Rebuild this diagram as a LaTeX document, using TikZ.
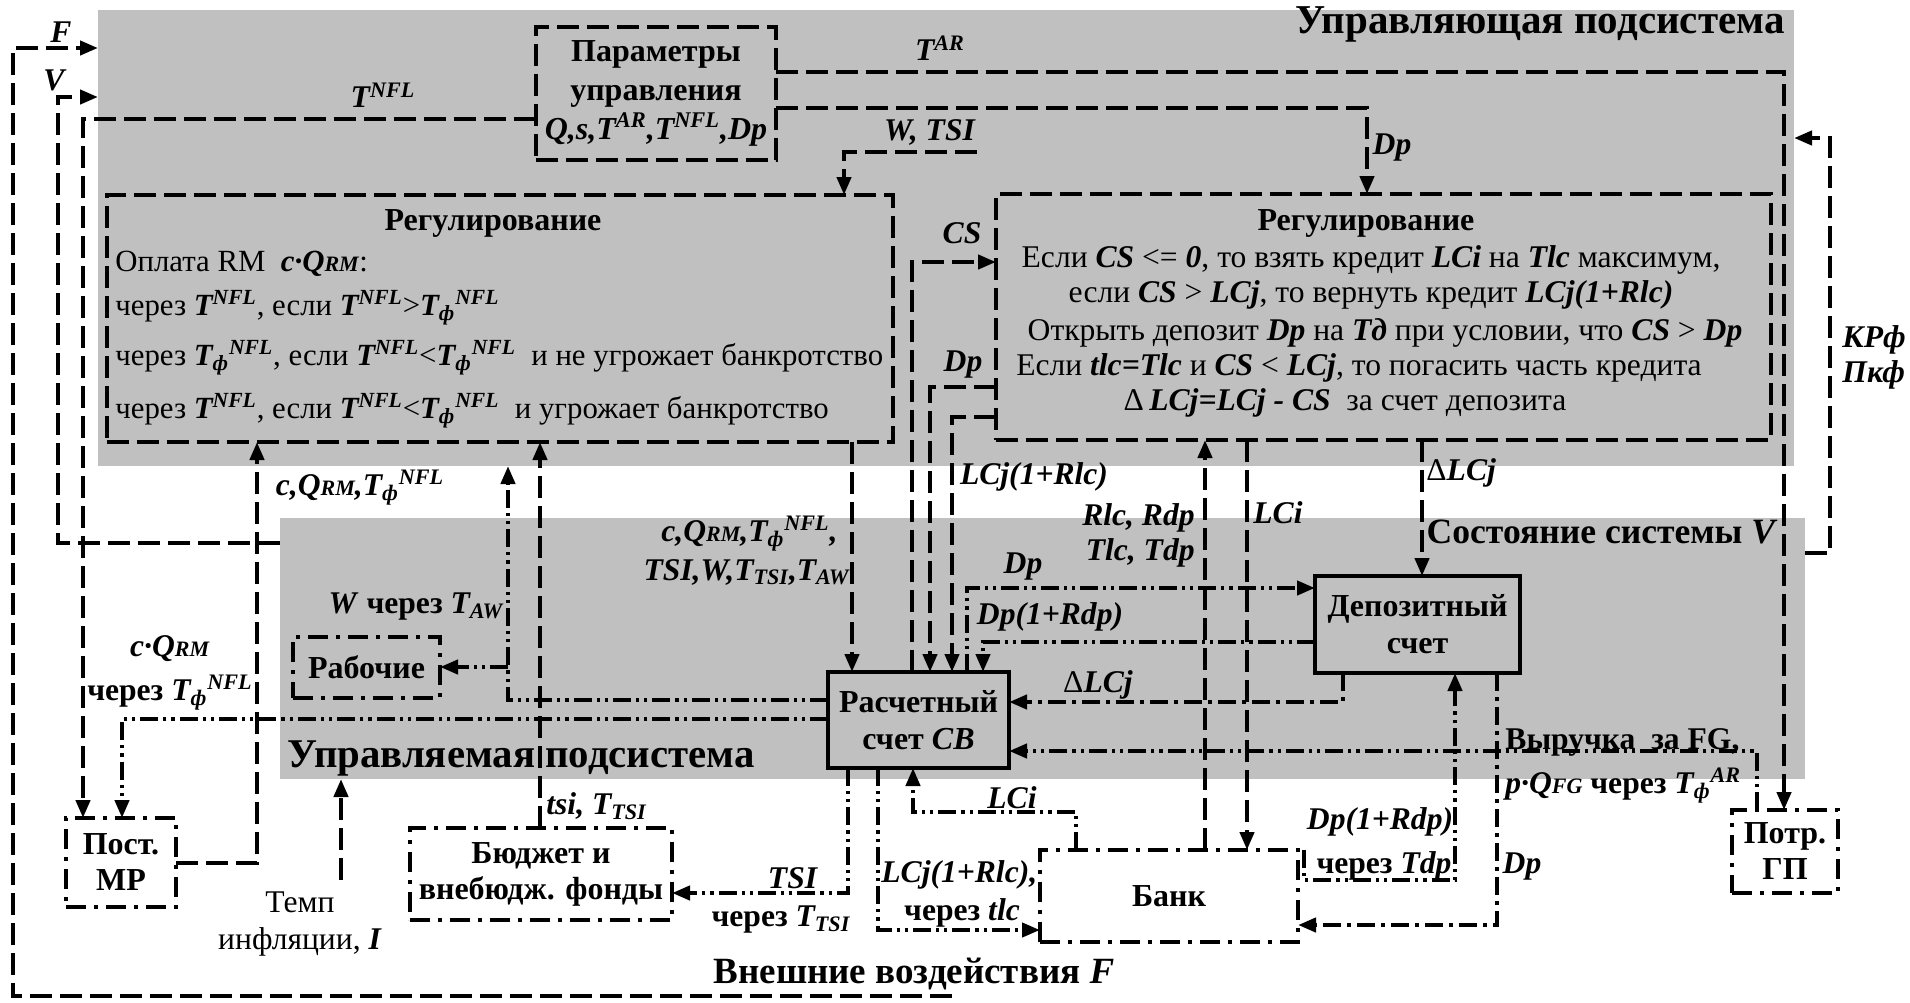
\documentclass[tikz,border=0pt]{standalone}
\usepackage{fontspec}
\setmainfont{Liberation Serif}
\usetikzlibrary{arrows.meta}
\definecolor{pan}{RGB}{192,192,192}
\newcommand{\bi}[1]{\textbf{\textit{#1}}}
\newcommand{\su}[1]{\textsuperscript{#1}}
\newcommand{\sbx}[1]{\textsubscript{#1}}
\newcommand{\smc}[1]{{\fontsize{11}{11}\selectfont #1}}
\newcommand{\TN}{\bi{T\su{NFL}}}
\newcommand{\TfN}{\bi{T\sbx{ф}\su{NFL}}}
\newcommand{\TfAR}{\bi{T\sbx{ф}\su{AR}}}
\tikzset{
  panel/.style={fill=pan,draw=none,inner sep=0pt,outer sep=0pt},
  dsh/.style={line width=2.1pt,dash pattern=on 11pt off 4pt},
  ddot/.style={line width=2.1pt,dash pattern=on 9pt off 2.5pt on 1.6pt off 2.5pt on 1.6pt off 2.5pt},
  dd/.style={line width=2.1pt,dash pattern=on 9pt off 3pt on 2pt off 3pt},
  arr/.style={-{Triangle[length=9pt,width=7pt]}},
  dbox/.style={draw,line width=2.1pt,dash pattern=on 11pt off 4pt,outer sep=0pt},
  sbox/.style={draw,line width=2.3pt,outer sep=0pt,align=center,font=\bfseries\fontsize{16}{18.5}\selectfont},
  ddbox/.style={draw,line width=2.1pt,dash pattern=on 10pt off 4pt on 2pt off 4pt,outer sep=0pt,align=center,font=\bfseries\fontsize{16}{18}\selectfont},
  ttl/.style={anchor=base,font=\bfseries\fontsize{16}{19}\selectfont},
  lft/.style={anchor=base west,font=\fontsize{15.4}{18}\selectfont},
}
\begin{document}
\begin{tikzpicture}[x=0.5pt,y=-0.5pt,inner sep=0pt,font=\fontsize{15.8}{19}\selectfont]
\useasboundingbox (0,0) rectangle (1910,1002);
% panels
\node[panel,minimum width=848pt,minimum height=228pt] (ctrl) at (946,238) {};
\node[panel,minimum width=762.5pt,minimum height=130.5pt] (ctld) at (1042.5,648.5) {};
% titles
\node[anchor=base east,font=\bfseries\fontsize{20.5}{24}\selectfont] (tctrl) at (1785,33) {Управляющая подсистема};
\node[anchor=base east,font=\bfseries\fontsize{17.8}{20}\selectfont] (tsost) at (1778,543) {Состояние системы \textit{V}};
\node[anchor=base west,font=\bfseries\fontsize{20.4}{22}\selectfont] (tupr) at (287,767) {Управляемая подсистема};
\node[anchor=base,font=\bfseries\fontsize{18.5}{22}\selectfont] (tvn) at (914,983) {Внешние воздействия \textit{F}};
% boxes
\node[dbox,minimum width=120pt,minimum height=66.5pt,align=center,font=\bfseries\fontsize{16}{19.5}\selectfont] (par) at (656,93.5) {Параметры\\управления\\\bi{Q,s,T\su{AR},T\su{NFL},Dp}};
\node[dbox,minimum width=393pt,minimum height=123.5pt] (lreg) at (500,318.5) {};
\node[dbox,minimum width=387.5pt,minimum height=123pt] (rreg) at (1383.5,317) {};
\node[sbox,minimum width=90.5pt,minimum height=48pt] (cb) at (918.5,720) {Расчетный\\счет \textit{CB}};
\node[sbox,minimum width=102.5pt,minimum height=48.5pt] (dep) at (1417.5,624.5) {Депозитный\\счет};
\node[ddbox,minimum width=129pt,minimum height=46pt] (bank) at (1169,896) {Банк};
\node[ddbox,minimum width=131pt,minimum height=46pt] (bud) at (541,874) {Бюджет и\\внебюдж. фонды};
\node[ddbox,minimum width=55pt,minimum height=44.5pt] (mp) at (121,862.5) {Пост.\\MP};
\node[ddbox,minimum width=53pt,minimum height=41.5pt] (gp) at (1785,851.5) {Потр.\\ГП};
\node[ddbox,minimum width=73.5pt,minimum height=30.5pt] (rab) at (366.5,667.5) {Рабочие};
% left regulation text
\node[ttl] (lt) at (493,230) {Регулирование};
\node[lft] (l1) at (115,271) {Оплата RM\ \ \bi{c·Q\smc{RM}}:};
\node[lft] (l2) at (115,315) {через \TN, если \TN>\TfN};
\node[lft] (l3) at (115,365) {через \TfN, если \TN<\TfN\ \ и не угрожает банкротство};
\node[lft] (l4) at (115,418) {через \TN, если \TN<\TfN\ \ и угрожает банкротство};
% right regulation text
\node[ttl] (rt) at (1366,230) {Регулирование};
\node[anchor=base] (r1) at (1371,267) {Если \bi{CS} <= \bi{0}, то взять кредит \bi{LCi} на \bi{Tlc} максимум,};
\node[anchor=base] (r2) at (1371,302) {если \bi{CS} > \bi{LCj}, то вернуть кредит \bi{LCj(1+Rlc)}};
\node[anchor=base] (r3) at (1385,340) {Открыть депозит \bi{Dp} на \bi{Tд} при условии, что \bi{CS} > \bi{Dp}};
\node[anchor=base] (r4) at (1359,375) {Если \bi{tlc=Tlc} и \bi{CS} < \bi{LCj}, то погасить часть кредита};
\node[anchor=base] (r5) at (1345,410) {Δ\,\bi{LCj=LCj - CS}\ \ за счет депозита};
% labels
\node (lTN) at (383,95) {\TN};
\node (lTAR) at (940,48) {\bi{T\su{AR}}};
\node (lWT) at (930,132) {\bi{W, TSI}};
\node (lDp1) at (1392,148) {\bi{Dp}};
\node (lF) at (61,32) {\bi{F}};
\node (lV) at (55,80) {\bi{V}};
\node (lCS) at (962,233) {\bi{CS}};
\node (lDp2) at (963,365) {\bi{Dp}};
\node (lLCj) at (1034,477) {\bi{LCj(1+Rlc)}};
\node[anchor=east] (lR) at (1195,518) {\bi{Rlc, Rdp}};
\node[anchor=east] (lT) at (1195,553) {\bi{Tlc, Tdp}};
\node[anchor=west] (lLCi) at (1253,513) {\bi{LCi}};
\node[anchor=west] (lDL) at (1426,473) {Δ\bi{LCj}};
\node (lDp3) at (1023,567) {\bi{Dp}};
\node (lDpR) at (1050,617) {\bi{Dp(1+Rdp)}};
\node (lDL2) at (1098,685) {Δ\bi{LCj}};
\node (lcq) at (360,488) {\bi{c,Q\smc{RM},}\TfN};
\node[anchor=base east] (lcq2a) at (838,541) {\bi{c,Q\smc{RM},}\TfN\bi{,}};
\node[anchor=base east] (lcq2b) at (850,580) {\bi{TSI,W,T\sbx{TSI},T\sbx{AW}}};
\node (lW) at (416,607) {\bi{W} \textbf{через} \bi{T\sbx{AW}}};
\node (lcq3) at (170,649) {\bi{c·Q\smc{RM}}};
\node (lcq4) at (170,693) {\textbf{через} \TfN};
\node[anchor=west] (ltsi) at (546,806) {\bi{tsi, T\sbx{TSI}}};
\node (lTSI) at (793,878) {\bi{TSI}};
\node (lTSI2) at (781,920) {\textbf{через} \bi{T\sbx{TSI}}};
\node (ltemp) at (300,902) {Темп};
\node (linf) at (300,942) {инфляции, \bi{I}};
\node (lLCi2) at (1012,798) {\bi{LCi}};
\node[anchor=west] (lLCj2) at (881,875) {\bi{LCj(1+Rlc),}};
\node (ltlc) at (962,913) {\textbf{через} \bi{tlc}};
\node (lDpR2) at (1380,822) {\bi{Dp(1+Rdp)}};
\node (lTdp) at (1384,866) {\textbf{через} \bi{Tdp}};
\node (lDp4) at (1522,867) {\bi{Dp}};
\node[anchor=base west] (lvyr) at (1505,749) {\textbf{Выручка\ \ за FG,}};
\node[anchor=base west] (lpq) at (1505,793) {\bi{p·Q\smc{FG}} \textbf{через} \TfAR};
\node[anchor=west] (lKR) at (1842,340) {\bi{КРф}};
\node[anchor=west] (lPk) at (1842,375) {\bi{Пкф}};
% free ends
\coordinate (fs) at (952,996);
\coordinate (wts) at (977,152);
\coordinate (tmp) at (341,880);
% dashed connectors
\draw[dsh,arr] (fs) -- (13,996) -- (13,48) -- (ctrl.west |- 0,48);
\draw[dsh,arr] (ctld.west |- 0,543) -- (58,543) -- (58,97) -- (ctrl.west |- 0,97);
\draw[dsh,arr] (par.west |- 0,119) -- (83,119) -- (83,0 |- mp.north);
\draw[dsh,arr] (par.east |- 0,72) -- (1784,72) -- (1784,0 |- gp.north);
\draw[dsh,arr] (par.east |- 0,108) -- (1367,108) -- (1367,0 |- rreg.north);
\draw[dsh,arr] (wts) -- (844,152) -- (844,0 |- lreg.north);
\draw[dsh,arr] (ctld.east |- 0,553) -- (1830,553) -- (1830,138) -- (ctrl.east |- 0,138);
\draw[dsh,arr] (mp.east |- 0,863) -- (257,863) -- (257,0 |- lreg.south);
\draw[dsh,arr] (540,0 |- bud.north) -- (540,0 |- lreg.south);
\draw[dsh,arr] (tmp) -- (341,0 |- ctld.south);
\draw[dsh,arr] (852,0 |- lreg.south) -- (852,0 |- cb.north);
\draw[dsh,arr] (912,0 |- cb.north) -- (912,262) -- (rreg.west |- 0,262);
\draw[dsh,arr] (rreg.west |- 0,387) -- (930,387) -- (930,0 |- cb.north);
\draw[dsh,arr] (rreg.west |- 0,417) -- (952,417) -- (952,0 |- cb.north);
\draw[dsh,arr] (1205,0 |- bank.north) -- (1205,0 |- rreg.south);
\draw[dsh,arr] (1247,0 |- rreg.south) -- (1247,0 |- bank.north);
\draw[dsh,arr] (1422,0 |- rreg.south) -- (1422,0 |- dep.north);
% money flows
\draw[ddot,arr] (cb.west |- 0,719) -- (122,719) -- (122,0 |- mp.north);
\draw[ddot,arr] (cb.west |- 0,700) -- (508,700) -- (508,0 |- ctrl.south);
\coordinate (wbr) at (508,667);
\draw[ddot,arr] (wbr) -- (rab.east |- wbr);
\draw[ddot,arr] (967,0 |- cb.north) -- (967,588) -- (dep.west |- 0,588);
\draw[ddot,arr] (dep.west |- 0,642) -- (983,642) -- (983,0 |- cb.north);
\draw[dd,arr] (1343,0 |- dep.south) -- (1343,702) -- (cb.east |- 0,702);
\draw[ddot,arr] (1757,0 |- gp.north) -- (1757,751) -- (cb.east |- 0,751);
\draw[ddot,arr] (848,0 |- cb.south) -- (848,893) -- (bud.east |- 0,893);
\draw[ddot,arr] (878,0 |- cb.south) -- (878,930) -- (bank.west |- 0,930);
\draw[ddot,arr] (1076,0 |- bank.north) -- (1076,812) -- (913,812) -- (913,0 |- cb.south);
\draw[ddot,arr] (1304,0 |- bank.north) -- (1304,880) -- (1455,880) -- (1455,0 |- dep.south);
\draw[dd,arr] (1497,0 |- dep.south) -- (1497,925) -- (bank.east |- 0,925);
\end{tikzpicture}
\end{document}
